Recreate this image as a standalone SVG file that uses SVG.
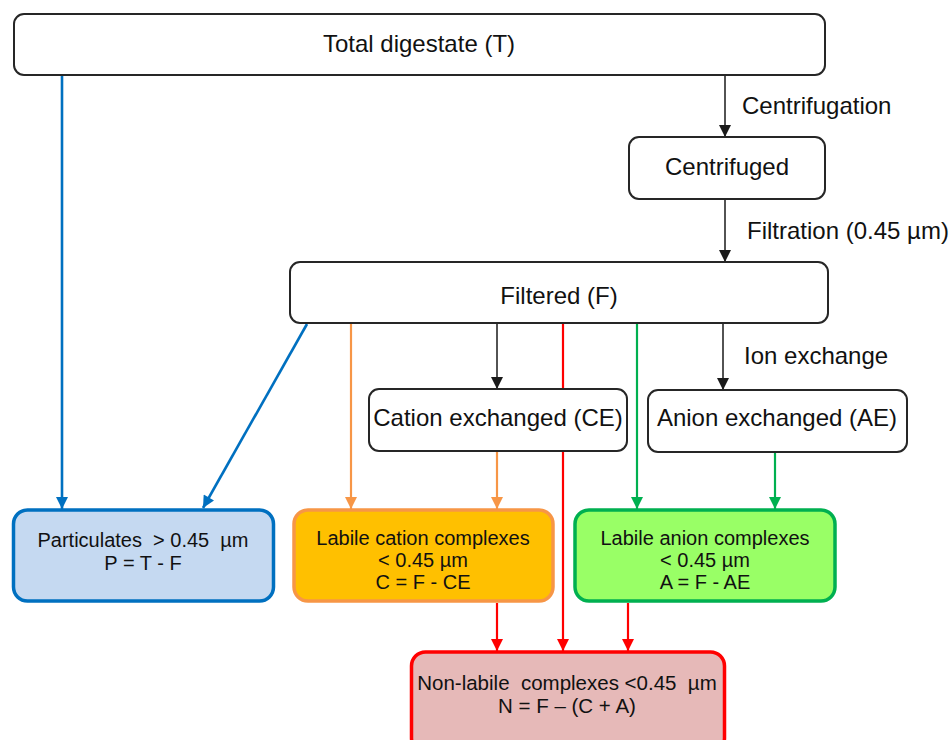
<svg xmlns="http://www.w3.org/2000/svg" width="951" height="740" viewBox="0 0 951 740">
<defs>
<style>
text{font-family:"Liberation Sans",Arial,sans-serif;fill:#111;}
.big{font-size:24px;}
.sm{font-size:20px;}
.mid{text-anchor:middle;}
.bx{fill:#fff;stroke:#262626;stroke-width:2;}
.c{fill:none;stroke-width:2.2;}
.k{stroke:#1a1a1a;stroke-width:1.5;}
.b{stroke:#0070c0;stroke-width:2.6;}
.o{stroke:#f79646;}
.g{stroke:#00b050;}
.r{stroke:#ff0000;}
</style>
<marker id="ak" viewBox="0 0 10 10" refX="10" refY="5" markerWidth="12" markerHeight="12" markerUnits="userSpaceOnUse" orient="auto"><path d="M0,0L10,5L0,10z" fill="#1a1a1a"/></marker>
<marker id="ab" viewBox="0 0 10 10" refX="10" refY="5" markerWidth="13" markerHeight="12" markerUnits="userSpaceOnUse" orient="auto"><path d="M0,0L10,5L0,10z" fill="#0070c0"/></marker>
<marker id="ao" viewBox="0 0 10 10" refX="10" refY="5" markerWidth="13" markerHeight="12" markerUnits="userSpaceOnUse" orient="auto"><path d="M0,0L10,5L0,10z" fill="#f79646"/></marker>
<marker id="ag" viewBox="0 0 10 10" refX="10" refY="5" markerWidth="13" markerHeight="12" markerUnits="userSpaceOnUse" orient="auto"><path d="M0,0L10,5L0,10z" fill="#00b050"/></marker>
<marker id="ar" viewBox="0 0 10 10" refX="10" refY="5" markerWidth="13" markerHeight="12" markerUnits="userSpaceOnUse" orient="auto"><path d="M0,0L10,5L0,10z" fill="#ff0000"/></marker>
</defs>
<rect width="951" height="740" fill="#fff"/>

<g id="connectors">
<line class="c k" x1="725" y1="76" x2="725" y2="137" marker-end="url(#ak)"/>
<line class="c k" x1="725" y1="200" x2="725" y2="262" marker-end="url(#ak)"/>
<line class="c k" x1="497" y1="324" x2="497" y2="389" marker-end="url(#ak)"/>
<line class="c k" x1="723" y1="324" x2="723" y2="390" marker-end="url(#ak)"/>
<line class="c b" x1="62" y1="76" x2="62" y2="509" marker-end="url(#ab)"/>
<line class="c b" x1="307" y1="324" x2="203" y2="508" marker-end="url(#ab)"/>
<line class="c o" x1="351" y1="324" x2="351" y2="509" marker-end="url(#ao)"/>
<line class="c o" x1="497" y1="452" x2="497" y2="509" marker-end="url(#ao)"/>
<line class="c g" x1="637" y1="324" x2="637" y2="509" marker-end="url(#ag)"/>
<line class="c g" x1="775" y1="453" x2="775" y2="509" marker-end="url(#ag)"/>
<line class="c r" x1="563" y1="324" x2="563" y2="651" marker-end="url(#ar)"/>
<line class="c r" x1="497" y1="603" x2="497" y2="651" marker-end="url(#ar)"/>
<line class="c r" x1="628" y1="603" x2="628" y2="651" marker-end="url(#ar)"/>
<text class="big" x="742" y="114">Centrifugation</text>
<text class="big" x="747" y="239">Filtration (0.45 µm)</text>
<text class="big" x="744" y="364">Ion exchange</text>
</g>

<g id="total">
<rect class="bx" x="14" y="14" width="811" height="61" rx="10"/>
<text class="big mid" x="419" y="52">Total digestate (T)</text>
</g>
<g id="centrifuged">
<rect class="bx" x="629" y="137" width="196" height="62" rx="10"/>
<text class="big mid" x="727" y="175">Centrifuged</text>
</g>
<g id="filtered">
<rect class="bx" x="290" y="262" width="538" height="61" rx="10"/>
<text class="big mid" x="559" y="304">Filtered (F)</text>
</g>
<g id="cation-exchanged">
<rect class="bx" x="369" y="389" width="258" height="62" rx="10"/>
<text class="big mid" x="498" y="426">Cation exchanged (CE)</text>
</g>
<g id="anion-exchanged">
<rect class="bx" x="648" y="390" width="259" height="62" rx="10"/>
<text class="big mid" x="777" y="426">Anion exchanged (AE)</text>
</g>

<g id="particulates">
<rect x="13.5" y="510" width="260" height="91" rx="14" fill="#c5d9f1" stroke="#0070c0" stroke-width="3.5"/>
<text class="sm mid" x="143" y="547" xml:space="preserve">Particulates  &gt; 0.45  µm</text>
<text class="sm mid" x="143" y="570">P = T - F</text>
</g>
<g id="labile-cation">
<rect x="294" y="510" width="259" height="91" rx="14" fill="#ffc000" stroke="#f79646" stroke-width="3.5"/>
<text class="sm mid" x="423" y="545">Labile cation complexes</text>
<text class="sm mid" x="423" y="567">&lt; 0.45 µm</text>
<text class="sm mid" x="423" y="589">C = F - CE</text>
</g>
<g id="labile-anion">
<rect x="575" y="510" width="260" height="91" rx="14" fill="#99ff66" stroke="#00b050" stroke-width="3.5"/>
<text class="sm mid" x="705" y="545">Labile anion complexes</text>
<text class="sm mid" x="705" y="567">&lt; 0.45 µm</text>
<text class="sm mid" x="705" y="589">A = F - AE</text>
</g>
<g id="non-labile">
<rect x="411.5" y="652" width="313" height="100" rx="14" fill="#e6b9b8" stroke="#ff0000" stroke-width="3.5"/>
<text class="sm mid" x="567" y="690" xml:space="preserve" style="font-size:20.5px">Non-labile  complexes &lt;0.45  µm</text>
<text class="sm mid" x="567" y="713" style="font-size:20.5px">N = F – (C + A)</text>
</g>
</svg>
